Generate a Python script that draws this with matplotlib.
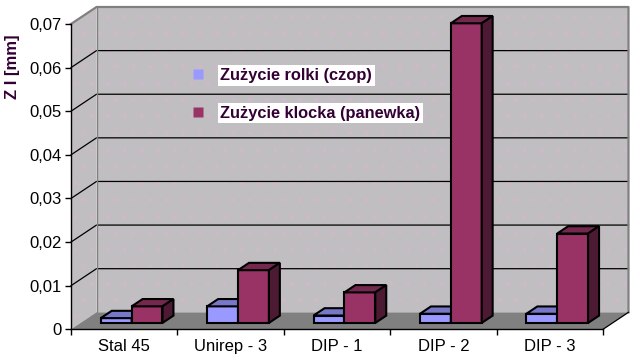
import matplotlib.pyplot as plt
from matplotlib.patches import Polygon
from matplotlib.lines import Line2D

categories = ["Stal 45", "Unirep - 3", "DIP - 1", "DIP - 2", "DIP - 3"]
zuzycie_rolki = [0.0011, 0.0038, 0.0017, 0.0021, 0.0021]
zuzycie_klocka = [0.0038, 0.0121, 0.0070, 0.0687, 0.0205]
series_names = ["Zużycie rolki (czop)", "Zużycie klocka (panewka)"]
y_ticks = [0, 0.01, 0.02, 0.03, 0.04, 0.05, 0.06, 0.07]
y_max = 0.07

# colours: front, top, side
blue = ("#9999FF", "#7878C8", "#5A5A99")
maroon = ("#993366", "#74284D", "#4D1A33")
text_col = "#330033"

plt.rcParams["font.family"] = ["Liberation Sans", "DejaVu Sans"]
plt.rcParams["hatch.linewidth"] = 0.6

W, H = 640, 363
fig = plt.figure(figsize=(W / 100, H / 100), dpi=100)
ax = fig.add_axes([71 / W, (H - 329.3) / H, 532 / W, 305.3 / H])
n = len(categories)
ax.set_xlim(0, n)
ax.set_ylim(0, y_max)

# oblique depth of the whole box, in data units
px_x = 532 / n
px_y = 305.3 / y_max
dx = 25.5 / px_x
dy = 17.0 / px_y

wall = "#C0BEC1"
floor = "#808080"
edge = "#808080"
speck = "#CDB9CA"

def poly(pts, **kw):
    p = Polygon(pts, closed=True, clip_on=False, **kw)
    ax.add_patch(p)
    return p

# left wall, back wall (speckled), floor
poly([(0, 0), (0, y_max), (dx, y_max + dy), (dx, dy)], facecolor=wall,
     edgecolor=speck, linewidth=0, hatch=".", zorder=0.5)
poly([(dx, dy), (n + dx, dy), (n + dx, y_max + dy), (dx, y_max + dy)],
     facecolor=wall, edgecolor=speck, linewidth=0, hatch=".", zorder=0.5)
poly([(0, 0), (n, 0), (n + dx, dy), (dx, dy)], facecolor=floor,
     edgecolor="none", zorder=0.6)

# gridlines
for v in y_ticks[1:-1]:
    ax.plot([0, dx, n + dx], [v, v + dy, v + dy], color="black", lw=0.9,
            zorder=0.8, clip_on=False)
# wall outline
ax.plot([0, dx, n + dx, n + dx], [y_max, y_max + dy, y_max + dy, dy],
        color=edge, lw=1.6, zorder=0.9, clip_on=False)
ax.plot([dx, dx], [dy, y_max + dy], color=edge, lw=1.0, zorder=0.9,
        clip_on=False)
ax.plot([n, n + dx], [0, dy], color="black", lw=0.9, zorder=0.9,
        clip_on=False)

# bars
z0 = 0.375
zd = 0.43
bw = 0.29
start = 0.19
ddx, ddy = zd * dx, zd * dy
base = z0 * dy

for k, (vals, cols) in enumerate([(zuzycie_rolki, blue), (zuzycie_klocka, maroon)]):
    lefts = [i + start + k * bw + z0 * dx for i in range(n)]
    zo = 3 + k
    ax.bar(lefts, vals, width=bw, bottom=base, align="edge", color=cols[0],
           edgecolor="black", linewidth=1.5, zorder=zo, clip_on=False)
    for xl, v in zip(lefts, vals):
        top = base + v
        poly([(xl, top), (xl + bw, top), (xl + bw + ddx, top + ddy),
              (xl + ddx, top + ddy)], facecolor=cols[1], edgecolor="black",
             linewidth=1.5, zorder=zo + 0.1)
        poly([(xl + bw, base), (xl + bw, top), (xl + bw + ddx, top + ddy),
              (xl + bw + ddx, base + ddy)], facecolor=cols[2],
             edgecolor="black", linewidth=1.5, zorder=zo + 0.1)

# axes
for s in ["top", "right"]:
    ax.spines[s].set_visible(False)
for s in ["left", "bottom"]:
    ax.spines[s].set_linewidth(1.0)
    ax.spines[s].set_zorder(2)

ax.set_yticks(y_ticks)
ax.set_yticklabels(["0"] + [f"{v:.2f}".replace(".", ",") for v in y_ticks[1:]])
ax.tick_params(axis="y", length=4, width=1, pad=3, labelsize=12)

ax.set_xticks(range(n + 1))
ax.set_xticklabels([])
ax.set_xticks([i + 0.5 for i in range(n)], minor=True)
ax.set_xticklabels(categories, minor=True)
ax.tick_params(axis="x", which="major", length=4, width=1)
ax.tick_params(axis="x", which="minor", length=0, pad=7, labelsize=12)

fig.text(12 / W, 1 - 67 / H, "Z I [mm]", rotation=90, ha="center",
         va="center", fontsize=12, fontweight="bold", color=text_col)

handles = [Line2D([], [], linestyle="none", marker="s", markersize=6.5,
                  markerfacecolor=c[0], markeredgecolor="none")
           for c in (blue, maroon)]
leg = ax.legend(handles, series_names, loc="upper left",
                bbox_to_anchor=(190 / W, 1 - 68 / H),
                bbox_transform=fig.transFigure, frameon=False,
                labelspacing=1.38, handletextpad=0.85, handlelength=1.0,
                borderpad=0, borderaxespad=0,
                prop={"size": 11.8, "weight": "bold"})
for t in leg.get_texts():
    t.set_color(text_col)
    t.set_bbox(dict(facecolor="white", edgecolor="none", pad=2))
leg.set_zorder(10)

fig.savefig("out.png", dpi=100, facecolor="white")
